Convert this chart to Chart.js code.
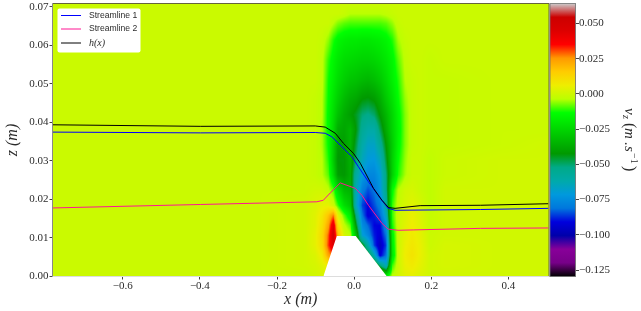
<!DOCTYPE html>
<html><head><meta charset="utf-8">
<style>html,body{margin:0;padding:0;background:#fff}canvas{display:block}</style>
<script src="https://cdn.jsdelivr.net/npm/chart.js@4"></script>
</head><body><canvas id="c" width="641" height="311"></canvas>
<script>
const seriesNames = ["Streamline 1", "Streamline 2", "h(x)"];
const xTicks = [-0.6,-0.4,-0.2,0,0.2,0.4];
const zTicks = [0,0.01,0.02,0.03,0.04,0.05,0.06,0.07];
const cbarTicks = [-0.125,-0.1,-0.075,-0.05,-0.025,0,0.025,0.05];
const xRange = [-0.782,0.505];
const zRange = [0,0.0709];
const vRange = [-0.1296,0.0642];

const s1X = [-.782,-.399,-.101,-.075,-.058,-.032,-.006,.011,.037,.067,.088,.106,.327,.503];
const s1Z = [.0375,.0373,.0374,.0372,.0363,.0337,.0311,.0285,.0246,.0204,.0177,.0172,.0174,.0177];
const s2X = [-.782,-.399,-.097,-.080,-.062,-.036,.003,.020,.037,.072,.088,.114,.153,.327,.503];
const s2Z = [.0178,.0187,.0194,.0198,.0217,.0243,.0229,.0211,.0185,.0138,.0123,.0120,.0121,.0125,.0126];
const hX = [-.782,-.399,-.101,-.075,-.049,-.028,-.002,.016,.050,.072,.089,.106,.171,.327,.503];
const hZ = [.0394,.0390,.0391,.0388,.0372,.0346,.0320,.0294,.0229,.0198,.0179,.0177,.0184,.0185,.0189];
const bumpX = [-.080,-.045,.004,.085];
const bumpZ = [0,.0105,.0105,0];

// nipy_spectral stops
const cmapPos = [0,.05,.1,.15,.2,.25,.3,.35,.4,.45,.5,.55,.6,.65,.7,.75,.8,.85,.9,.95,1];
const cmapRGB = [[0,0,0],[119,0,136],[136,0,153],[0,0,170],[0,0,221],[0,119,221],[0,153,221],[0,170,170],[0,170,136],[0,153,0],[0,187,0],[0,221,0],[0,255,0],[187,255,0],[238,238,0],[255,204,0],[255,153,0],[255,0,0],[221,0,0],[204,0,0],[204,204,204]];

// v_z field, in 1e-3 m/s
const fieldX = [-.782,-.244,-.127,-.101,-.083,-.067,-.054,-.042,-.026,-.010,.005,.021,.036,.052,.067,.083,.099,.114,.132,.150,.171,.197,.236,.379,.505];
const fieldZ = [.0709,.0682,.0657,.0615,.0563,.0511,.0459,.0420,.0381,.0342,.0303,.0264,.0224,.0185,.0159,.0133,.0107,.0081,.0055,.0029,0];
const fieldV = [
[0,0,0,0,0,0,0,0,0,0,0,0,0,0,0,0,0,0,0,0,0,0,0,0,0],
[0,0,0,0,0,0,0,0,-1,-3,-3,-3,-3,-3,-3,-2,-1,0,0,0,0,0,0,0,0],
[0,0,0,0,0,0,-3,-6,-8,-9,-9,-9,-9,-9,-9,-8,-5,-1,0,0,0,0,0,0,0],
[0,0,0,0,-1,-5,-11,-15,-17,-18,-18,-19,-19,-18,-17,-15,-11,-4,-1,0,0,0,0,0,0],
[0,0,0,0,-2,-10,-15,-19,-22,-23,-24,-25,-25,-24,-22,-19,-15,-8,-2,0,0,-1,0,0,0],
[0,0,0,0,-2,-12,-17,-22,-26,-29,-30,-32,-33,-31,-28,-23,-17,-11,-3,-1,0,-1,-1,0,0],
[0,0,0,-1,-3,-13,-20,-26,-32,-36,-38,-42,-43,-41,-36,-28,-21,-13,-5,-1,0,-1,-1,0,0],
[0,0,0,-1,-3,-14,-22,-30,-36,-40,-44,-50,-52,-49,-41,-33,-24,-15,-6,-1,0,-1,-1,0,0],
[0,0,0,-1,-4,-14,-24,-36,-38,-34,-42,-55,-60,-60,-48,-36,-25,-16,-6,-1,0,-1,-1,0,0],
[0,0,0,-1,-4,-13,-26,-40,-40,-34,-46,-60,-66,-66,-56,-41,-27,-15,-6,-1,0,-1,-1,0,1],
[0,0,0,-1,-3,-11,-27,-42,-42,-35,-50,-64,-70,-71,-64,-45,-26,-13,-5,0,0,-2,0,1,1],
[0,0,0,-1,-3,-8,-23,-40,-42,-36,-58,-70,-76,-76,-70,-50,-26,-11,-4,0,0,-2,0,1,1],
[0,0,0,1,1,-2,-8,-22,-32,-34,-62,-78,-84,-80,-72,-52,-14,-3,1,2,0,-2,1,1,1],
[0,0,1,3,5,5,0,-10,-22,-28,-64,-85,-90,-84,-78,-58,-10,-1,2,4,2,-2,1,1,1],
[0,0,1,4,9,18,28,4,-8,-18,-52,-80,-92,-88,-82,-64,-10,0,3,6,3,-1,1,1,1],
[0,0,1,4,11,24,44,12,-2,-8,-42,-74,-82,-90,-90,-74,-12,0,4,7,4,-1,1,1,1],
[0,0,1,5,13,30,50,20,2,-2,-30,-68,-76,-88,-92,-80,-16,0,5,8,5,0,1,1,1],
[0,0,1,5,12,32,46,46,0,0,-40,-40,-60,-85,-96,-85,-18,0,6,9,6,0,2,1,1],
[0,0,1,3,8,24,30,30,0,0,-40,-40,-40,-62,-92,-80,-20,0,7,10,6,1,2,1,1],
[0,0,1,2,4,8,8,8,0,0,-30,-30,-30,-30,-50,-65,-10,0,6,8,5,1,2,1,1],
[0,0,0,1,2,3,3,3,0,0,-10,-10,-10,-10,-10,-15,-2,1,4,5,3,1,1,1,1]
];
const fieldZeroShift = -0.7; // colour calibration of the background level

const TXT = '#2b2b2b', TICK = '#444';
const pts = (xs, zs) => xs.map((x, i) => ({x, y: zs[i]}));
const fmt = (v, d) => (v < 0 ? '\u2212' : '') + Math.abs(v).toFixed(d);

function colorOf(v) {
  let t = (v - vRange[0]) / (vRange[1] - vRange[0]);
  t = Math.max(0, Math.min(1, t));
  let i = 0;
  while (i < cmapPos.length - 2 && t > cmapPos[i + 1]) i++;
  const f = (t - cmapPos[i]) / (cmapPos[i + 1] - cmapPos[i]);
  return cmapRGB[i].map((c, k) => c + (cmapRGB[i + 1][k] - c) * f);
}
function bracket(arr, v, desc) {
  let i = 0;
  const n = arr.length - 2;
  if (desc) { while (i < n && v < arr[i + 1]) i++; }
  else { while (i < n && v > arr[i + 1]) i++; }
  const f = (v - arr[i]) / (arr[i + 1] - arr[i]);
  return [i, Math.max(0, Math.min(1, f))];
}

const fieldPlugin = {
  id: 'field',
  beforeDatasetsDraw(chart) {
    const {ctx, chartArea: a, scales: {x, y, y2}} = chart;
    const x0 = Math.round(a.left), y0 = Math.round(a.top);
    const w = Math.round(a.right) - x0, h = Math.round(a.bottom) - y0;
    const off = document.createElement('canvas');
    off.width = w; off.height = h;
    const oc = off.getContext('2d');
    const img = oc.createImageData(w, h);
    for (let r = 0; r < h; r++) {
      const [ri, rf] = bracket(fieldZ, y.getValueForPixel(y0 + r + .5), true);
      for (let c = 0; c < w; c++) {
        const [ci, cf] = bracket(fieldX, x.getValueForPixel(x0 + c + .5), false);
        const v = (fieldV[ri][ci] * (1 - rf) * (1 - cf) + fieldV[ri][ci + 1] * (1 - rf) * cf +
                   fieldV[ri + 1][ci] * rf * (1 - cf) + fieldV[ri + 1][ci + 1] * rf * cf + fieldZeroShift) / 1000;
        const col = colorOf(v), p = (r * w + c) * 4;
        img.data[p] = col[0]; img.data[p + 1] = col[1]; img.data[p + 2] = col[2]; img.data[p + 3] = 255;
      }
    }
    oc.putImageData(img, 0, 0);
    ctx.drawImage(off, x0, y0);

    // colour bar, on top of the long y2 tick marks
    const top = y2.getPixelForValue(vRange[1]), bot = y2.getPixelForValue(vRange[0]);
    const barL = a.right + 1, barR = a.right + 26.5;
    ctx.fillStyle = '#fff';
    ctx.fillRect(a.right, top - 1, barR - a.right, bot - top + 2);
    const g = ctx.createLinearGradient(0, bot, 0, top);
    cmapPos.forEach((p, i) => g.addColorStop(p, `rgb(${cmapRGB[i].join(',')})`));
    ctx.fillStyle = g;
    ctx.fillRect(barL, top, barR - barL, bot - top);
    ctx.strokeStyle = 'rgba(110,110,110,.8)';
    ctx.lineWidth = 1;
    ctx.strokeRect(barL, top, barR - barL, bot - top);
  },
  afterDraw(chart) {
    const {ctx, chartArea: a} = chart;
    // spines
    ctx.save();
    ctx.lineWidth = 1;
    ctx.strokeStyle = '#66643c';
    ctx.beginPath();
    ctx.moveTo(a.left, a.top); ctx.lineTo(a.right, a.top);
    ctx.moveTo(a.right, a.top); ctx.lineTo(a.right, a.bottom);
    ctx.stroke();
    ctx.strokeStyle = '#888';
    ctx.beginPath(); ctx.moveTo(a.left, a.top); ctx.lineTo(a.left, a.bottom); ctx.stroke();
    ctx.strokeStyle = '#ddd';
    ctx.beginPath(); ctx.moveTo(a.left, a.bottom); ctx.lineTo(a.right, a.bottom); ctx.stroke();

    // legend
    ctx.fillStyle = '#fff';
    ctx.beginPath();
    ctx.roundRect(57.5, 8.5, 83, 44, 2);
    ctx.fill();
    const rows = [[15.5, '#0000ff'], [29, '#ff1493'], [43, '#000']];
    rows.forEach(([yy, col], i) => {
      ctx.strokeStyle = col;
      ctx.lineWidth = 1;
      ctx.beginPath(); ctx.moveTo(61, yy); ctx.lineTo(81, yy); ctx.stroke();
      ctx.fillStyle = TXT;
      ctx.textBaseline = 'middle';
      ctx.textAlign = 'left';
      ctx.font = i < 2 ? '8.6px "Liberation Sans"' : 'italic 10px "Liberation Serif"';
      ctx.fillText(seriesNames[i], 89, yy);
    });

    // colour bar label, rotated clockwise
    ctx.translate(625, 108);
    ctx.rotate(Math.PI / 2);
    ctx.fillStyle = TXT;
    ctx.textBaseline = 'alphabetic';
    const big = 'italic 15px "Liberation Serif"', small = '10px "Liberation Serif"', up = '16px "Liberation Serif"';
    [['v', big, 0, 0], ['z', 'italic ' + small, 7, 2.5], ['(', up, 15, 0], ['m', big, 20, 0],
     ['.', big, 34, 0], ['s', big, 38, 0], ['\u22121', small, 45, -6], [')', up, 58, 0]]
      .forEach(([t, f, dx, dy]) => { ctx.font = f; ctx.fillText(t, dx, dy); });
    ctx.restore();
  }
};

const tickFont = {family: '"Liberation Serif"', size: 11};
const titleFont = {family: '"Liberation Serif"', size: 16, style: 'italic'};
new Chart(document.getElementById('c'), {
  type: 'line',
  data: {datasets: [
    {label: seriesNames[2], data: pts(hX, hZ), borderColor: '#000', borderWidth: 1},
    {label: seriesNames[0], data: pts(s1X, s1Z), borderColor: '#0000ff', borderWidth: 1},
    {label: seriesNames[1], data: pts(s2X, s2Z), borderColor: '#ff1493', borderWidth: 1},
    {label: 'bump', data: pts(bumpX, bumpZ), borderWidth: 0, borderColor: 'transparent', backgroundColor: '#fff', fill: 'origin'}
  ]},
  options: {
    responsive: false, animation: false, events: [],
    layout: {autoPadding: false, padding: {top: 3.5, left: 0, right: 0, bottom: 0}},
    elements: {point: {radius: 0}, line: {tension: 0}},
    plugins: {legend: {display: false}, tooltip: {enabled: false}},
    scales: {
      x: {
        type: 'linear', min: xRange[0], max: xRange[1],
        afterFit: s => { s.height = 34.5; s.paddingLeft = 0; s.paddingRight = 0; },
        afterBuildTicks: s => { s.ticks = xTicks.map(value => ({value})); },
        grid: {drawOnChartArea: false, tickLength: 3, tickColor: TICK},
        border: {display: false},
        ticks: {font: tickFont, color: TXT, padding: 0, maxRotation: 0, autoSkip: false, callback: v => fmt(v, 1)},
        title: {display: true, text: 'x (m)', color: TXT, font: titleFont, padding: {top: 0, bottom: 2}}
      },
      y: {
        type: 'linear', min: zRange[0], max: zRange[1],
        afterFit: s => { s.width = 52.5; s.paddingTop = 0; s.paddingBottom = 0; },
        afterBuildTicks: s => { s.ticks = zTicks.map(value => ({value})); },
        grid: {drawOnChartArea: false, tickLength: 3, tickColor: TICK},
        border: {display: false},
        ticks: {font: tickFont, color: TXT, padding: 1, autoSkip: false, callback: v => fmt(v, 2)},
        title: {display: true, text: 'z (m)', color: TXT, font: titleFont, padding: {top: 3, bottom: 0}}
      },
      y2: {
        type: 'linear', position: 'right', min: vRange[0], max: vRange[1],
        afterFit: s => { s.width = 92; s.paddingTop = 0; s.paddingBottom = 0; },
        afterBuildTicks: s => { s.ticks = cbarTicks.map(value => ({value})); },
        grid: {drawOnChartArea: false, tickLength: 30, tickColor: TICK},
        border: {display: false},
        ticks: {font: tickFont, color: TXT, padding: 0, autoSkip: false, callback: v => fmt(v, 3)}
      }
    }
  },
  plugins: [fieldPlugin]
});
</script>
</body></html>
